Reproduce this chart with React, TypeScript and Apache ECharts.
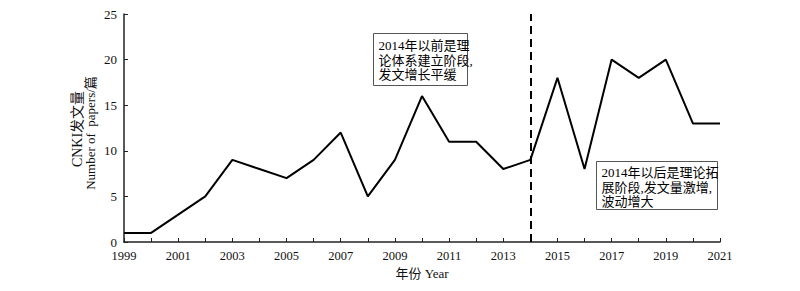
import React, { useEffect, useRef } from "react";
import * as echarts from "echarts";

const years = ["1999","2000","2001","2002","2003","2004","2005","2006","2007","2008","2009","2010","2011","2012","2013","2014","2015","2016","2017","2018","2019","2020","2021"];
const papers = [1, 1, 3, 5, 9, 8, 7, 9, 12, 5, 9, 16, 11, 11, 8, 9, 18, 8, 20, 18, 20, 13, 13];
const dividerYear = "2014";
const yTicks = { min: 0, max: 25, interval: 5 };
const noteBefore = "2014年以前是理\n论体系建立阶段,\n发文增长平缓";
const noteAfter = "2014年以后是理论拓\n展阶段,发文量激增,\n波动增大";
const xAxisName = "年份 Year";
const yAxisNameLines = ["CNKI发文量", "Number of  papers/篇"];

const FONT = "'Liberation Serif', 'Times New Roman', 'Noto Sans CJK SC', serif";

export default function App() {
  const ref = useRef<HTMLDivElement>(null);
  useEffect(() => {
    if (!ref.current) return;
    const chart = echarts.init(ref.current, undefined, { renderer: "svg" });
    chart.setOption({
      animation: false,
      backgroundColor: "#ffffff",
      grid: { left: 124, right: 80, top: 14, bottom: 49 },
      xAxis: {
        type: "category",
        data: years,
        boundaryGap: false,
        name: xAxisName,
        nameLocation: "middle",
        nameGap: 25,
        nameTextStyle: { fontFamily: FONT, fontSize: 13, color: "#111" },
        axisLine: { lineStyle: { color: "#222", width: 1.5 } },
        axisTick: { inside: true, length: 4, interval: 0, lineStyle: { color: "#222" } },
        axisLabel: { interval: 1, fontFamily: FONT, fontSize: 12.5, color: "#111", margin: 8 },
        splitLine: { show: false },
      },
      yAxis: {
        type: "value",
        min: yTicks.min,
        max: yTicks.max,
        interval: yTicks.interval,
        axisLine: { show: true, lineStyle: { color: "#222", width: 1.5 } },
        axisTick: { show: true, inside: true, length: 4, lineStyle: { color: "#222" } },
        axisLabel: { fontFamily: FONT, fontSize: 13, color: "#111", margin: 7 },
        splitLine: { show: false },
      },
      series: [
        {
          type: "line",
          data: papers,
          symbol: "none",
          lineStyle: { color: "#000", width: 2 },
          markLine: {
            silent: true,
            symbol: "none",
            label: { show: false },
            lineStyle: { color: "#000", width: 2, type: [8, 5] },
            data: [{ xAxis: dividerYear }],
          },
        },
      ],
      graphic: [
        {
          type: "text",
          x: 77,
          y: 129,
          rotation: Math.PI / 2,
          style: { text: yAxisNameLines[0], font: `14px ${FONT}`, fill: "#111", align: "center", verticalAlign: "middle" },
        },
        {
          type: "text",
          x: 90,
          y: 133,
          rotation: Math.PI / 2,
          style: { text: yAxisNameLines[1], font: `13px ${FONT}`, fill: "#111", align: "center", verticalAlign: "middle" },
        },
        {
          type: "group",
          left: 373,
          top: 33,
          children: [
            { type: "rect", shape: { x: 0, y: 0, width: 94, height: 52 }, style: { fill: "#fff", stroke: "#555", lineWidth: 1 } },
            { type: "text", x: 5, y: 5, style: { text: noteBefore, font: `13px ${FONT}`, fill: "#000", lineHeight: 14.5 } },
          ],
        },
        {
          type: "group",
          left: 596,
          top: 161,
          children: [
            { type: "rect", shape: { x: 0, y: 0, width: 121, height: 48 }, style: { fill: "#fff", stroke: "#555", lineWidth: 1 } },
            { type: "text", x: 5, y: 4, style: { text: noteAfter, font: `13px ${FONT}`, fill: "#000", lineHeight: 14.5 } },
          ],
        },
      ],
    });
    return () => chart.dispose();
  }, []);
  return <div ref={ref} style={{ width: 800, height: 291, margin: -8 }} />;
}
